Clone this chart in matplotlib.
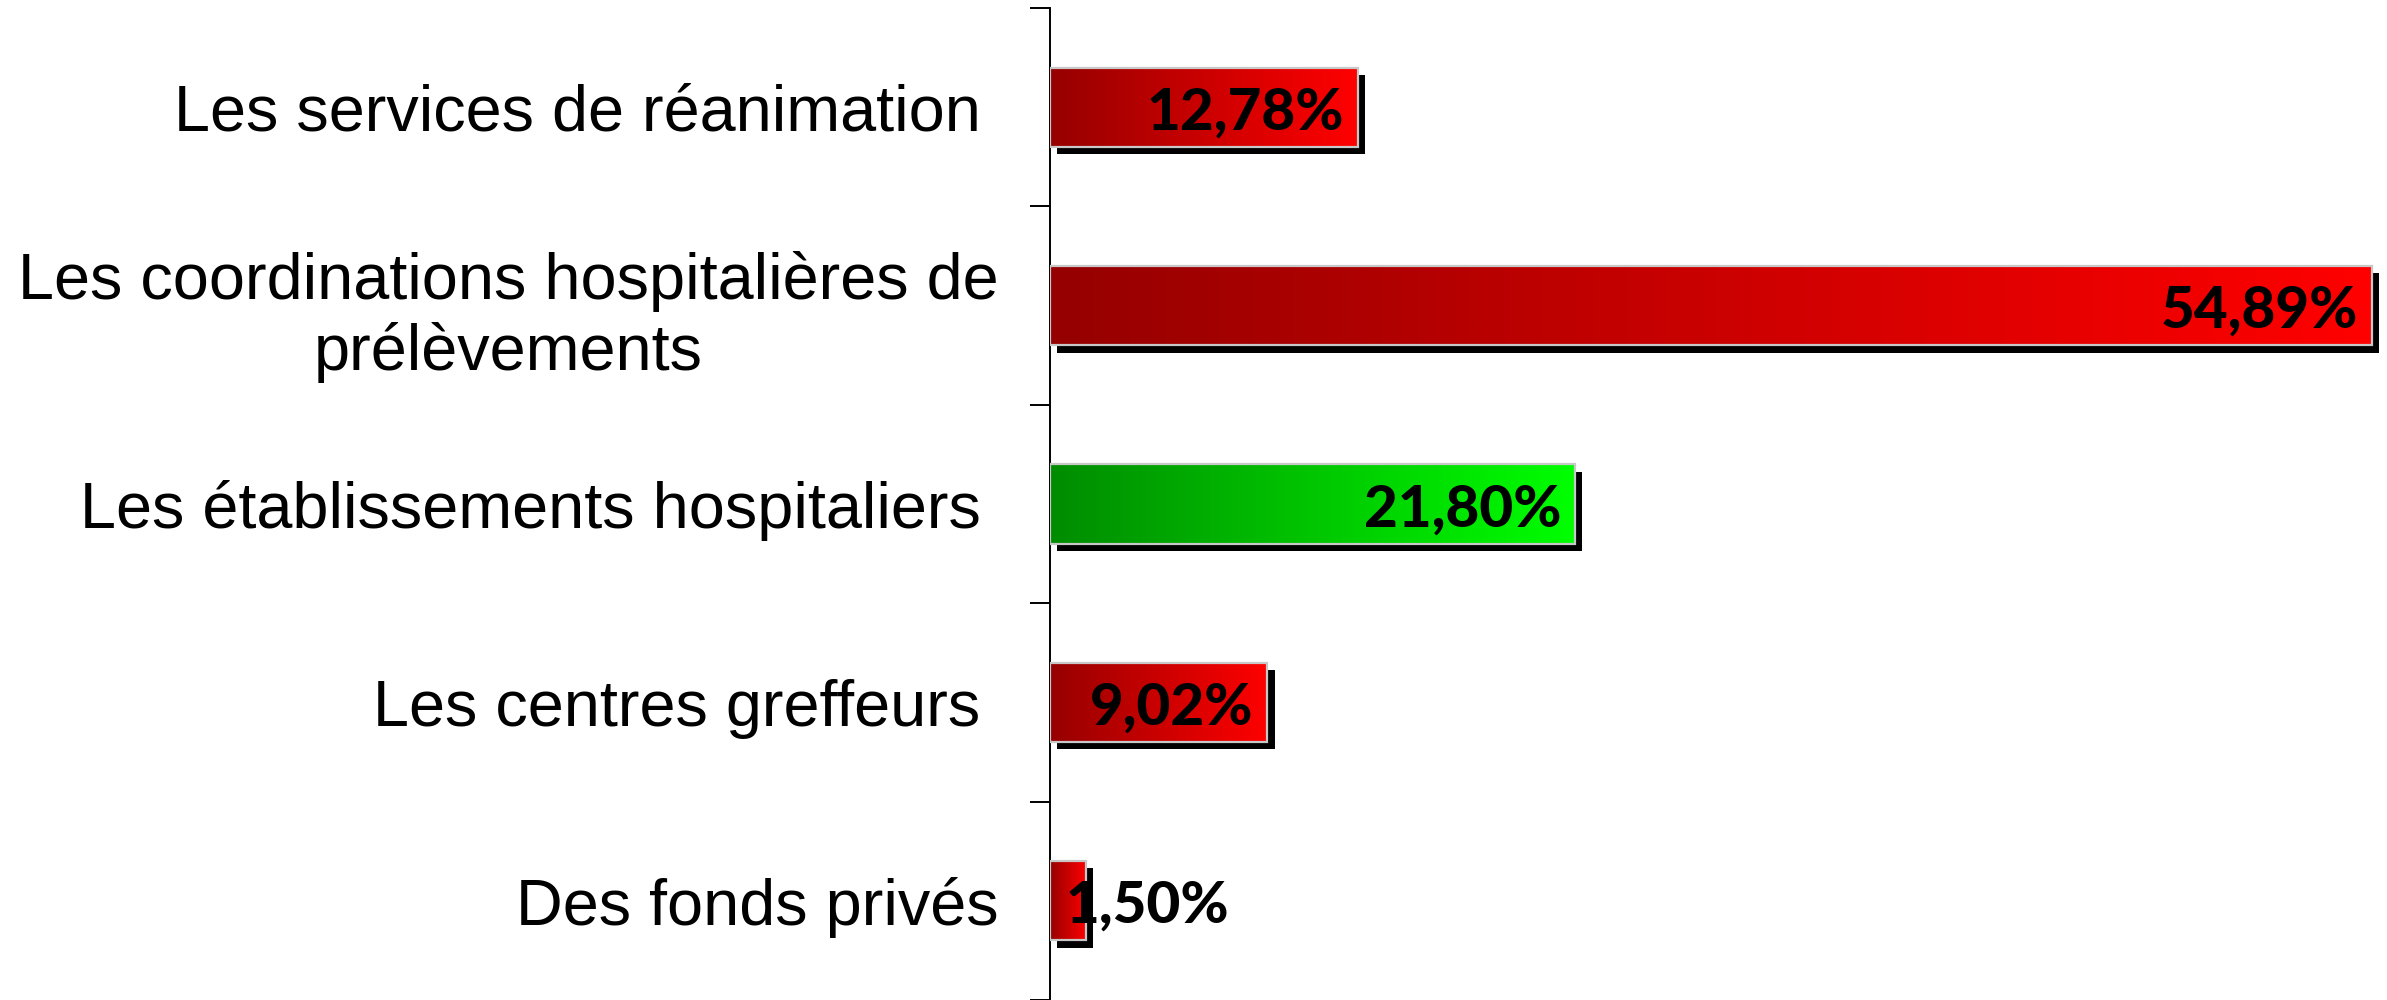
import numpy as np
import matplotlib
matplotlib.use("Agg")
import matplotlib.pyplot as plt
from matplotlib.colors import LinearSegmentedColormap
from matplotlib import patheffects as pe

categories = [
    "Les services de réanimation ",
    "Les coordinations hospitalières de\nprélèvements",
    "Les établissements hospitaliers ",
    "Les centres greffeurs ",
    "Des fonds privés",
]
values = [12.78, 54.89, 21.80, 9.02, 1.50]
labels = ["12,78%", "54,89%", "21,80%", "9,02%", "1,50%"]
bar_colors = ["red", "red", "green", "red", "red"]

cmaps = {
    "red": LinearSegmentedColormap.from_list("r", ["#960000", "#FF0000"]),
    "green": LinearSegmentedColormap.from_list("g", ["#008C00", "#00FF00"]),
}

fig = plt.figure(figsize=(23.87, 10), dpi=100)
ax = fig.add_axes([1050 / 2387, 0.0, 1 - 1050 / 2387, 0.992])

y = np.arange(len(categories))
h = 0.40

# shadow layer
ax.barh(y, values, height=h, color="black", edgecolor="none", zorder=1,
        path_effects=[pe.SimplePatchShadow(offset=(5.3, -5.3), shadow_rgbFace="black", alpha=1.0)])

grad = np.linspace(0, 1, 256).reshape(1, -1)
for yi, v, c in zip(y, values, bar_colors):
    ax.imshow(grad, cmap=cmaps[c], aspect="auto", interpolation="bilinear",
              extent=(0, v, yi + h / 2, yi - h / 2), zorder=2)

# border
ax.barh(y, values, height=h, color="none", edgecolor="#C8C8C8", linewidth=1.6, zorder=3)

for yi, v, lab in zip(y, values, labels):
    if v > 5:
        ax.annotate(lab, xy=(v, yi), xytext=(-10, -16), textcoords="offset points",
                    ha="right", va="baseline", fontsize=42, fontweight="black",
                    family="Lato", color="black", zorder=5)
    else:
        ax.annotate(lab, xy=(0, yi), xytext=(11, -16), textcoords="offset points",
                    ha="left", va="baseline", fontsize=42, fontweight="black",
                    family="Lato", color="black", zorder=5)

ax.set_xlim(0, 55.52)
ax.set_ylim(len(categories) - 0.5, -0.5)

ax.set_yticks(y)
ax.set_yticklabels(categories, fontsize=46.6, family="Liberation Sans", multialignment="center")
ax.tick_params(axis="y", which="major", length=0, pad=37)
ax.set_yticks(np.arange(-0.5, len(categories) + 0.5, 1.0), minor=True)
ax.tick_params(axis="y", which="minor", length=14.4, width=1.4, direction="out", color="black")
ax.set_xticks([])

for s in ["top", "right", "bottom"]:
    ax.spines[s].set_visible(False)
ax.spines["left"].set_linewidth(1.4)
ax.spines["left"].set_color("black")

fig.savefig("out.png", dpi=100)
